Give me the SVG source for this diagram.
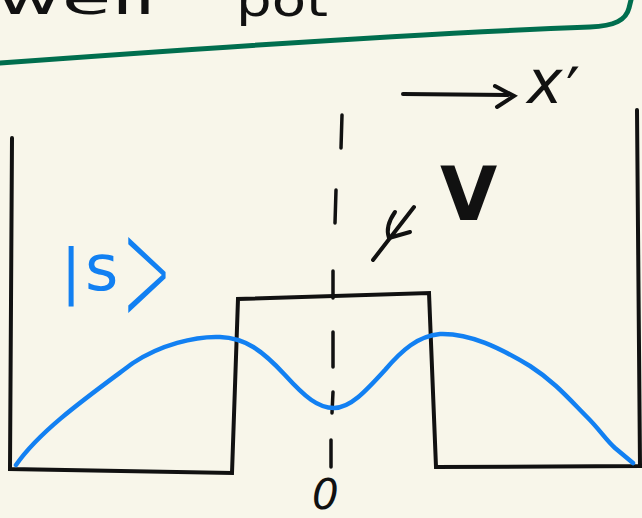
<svg xmlns="http://www.w3.org/2000/svg" width="642" height="518" viewBox="0 0 642 518">
<style>
.ink{fill:none;stroke:#111;stroke-width:4;stroke-linecap:round;stroke-linejoin:miter}
.dash{fill:none;stroke:#111;stroke-width:3.5;stroke-linecap:round}
.wave{fill:none;stroke:#1280f2;stroke-width:4.5;stroke-linecap:round;stroke-linejoin:round}
.hand{font-family:"DejaVu Sans","Liberation Sans",sans-serif;fill:#111}
.ket{font-family:"DejaVu Sans","Liberation Sans",sans-serif;fill:#1280f2}
</style>
<rect width="642" height="518" fill="#f8f6ea"/>
<g id="title">
<text class="hand" x="-4" y="14" font-size="46" textLength="160" lengthAdjust="spacingAndGlyphs">well</text>
<text class="hand" x="236" y="16" font-size="46" textLength="92" lengthAdjust="spacingAndGlyphs">pot</text>
<path d="M0,63 C150,52 400,34 590,27 C615,26 626,20 629,8 L631,0" fill="none" stroke="#006e4e" stroke-width="5" stroke-linecap="round"/>
</g>
<g id="well">
<polyline class="ink" points="12,138 10,469 232,473 238,299 429,293 436,467 640,466 637,110"/>
</g>
<g id="axis">
<path class="dash" d="M342,115 L341,148 M336,190 L335,223 M333,271 L333,298 M333,332 L333,367 M333,392 L332,413 M331,440 L331,467"/>
<text class="hand" x="312" y="509" font-size="42" font-style="italic" font-family="Liberation Sans, sans-serif">0</text>
</g>
<g id="wavefunction">
<path class="wave" d="M16,465 C40,430 90,395 133,363 C160,345 195,336 220,337 C245,338 262,350 285,375 C305,397 318,408 334,408 C350,408 365,392 385,370 C402,350 418,336 440,334 C470,333 500,348 530,366 C555,382 570,400 587,417 C600,430 606,440 615,448 L633,463"/>
<text class="ket" x="61" y="292" font-size="60">|</text>
<text class="ket" x="85" y="290" font-size="64">s</text>
<text class="ket" font-size="70" font-weight="300" font-family="Inter, sans-serif" transform="translate(122,323) scale(0.85,2.2)">&gt;</text>
</g>
<g id="xaxis">
<path class="ink" d="M403,94 L508,95" stroke-width="3.5"/>
<path class="ink" d="M495,86 L514,96 L497,107" stroke-width="5" stroke-linejoin="round"/>
<text class="hand" x="527" y="103" font-size="60" font-style="italic" font-family="Liberation Serif, serif">x</text>
<text class="hand" x="566" y="112" font-size="62" font-family="DejaVu Sans, sans-serif">′</text>
</g>
<g id="potential">
<text class="hand" x="440" y="220" font-size="74" font-weight="bold" font-family="Liberation Sans, sans-serif">V</text>
<path class="ink" d="M414,207 L373,260" stroke-width="3.5"/>
<path class="ink" d="M395,212 C388,222 386,230 389,238 L410,232" stroke-width="3.5" stroke-linejoin="round"/>
</g>
</svg>
